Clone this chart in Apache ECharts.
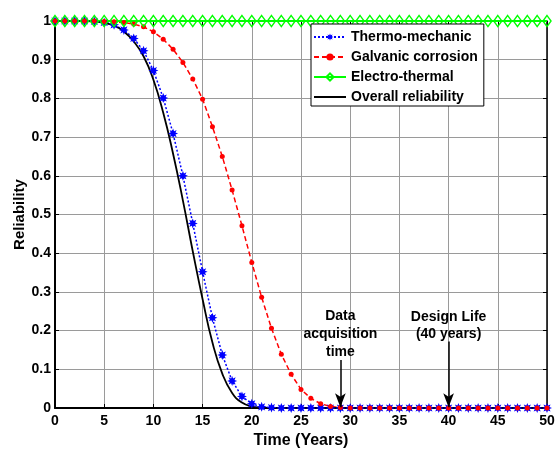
<!DOCTYPE html>
<html>
<head>
<meta charset="utf-8">
<script src="https://cdn.jsdelivr.net/npm/echarts@6/dist/echarts.min.js"></script>
<style>
html,body{margin:0;padding:0;background:#fff;}
#chart{width:555px;height:449px;}
</style>
</head>
<body>
<div id="chart"></div>
<script>
// ---- data ----
var years = [0,1,2,3,4,5,6,7,8,9,10,11,12,13,14,15,16,17,18,19,20,21,22,23,24,25,26,27,28,29,30,31,32,33,34,35,36,37,38,39,40,41,42,43,44,45,46,47,48,49,50];
var thermoMechanic = [1,1,1,1,0.999,0.996,0.99,0.977,0.955,0.923,0.872,0.801,0.709,0.6,0.477,0.352,0.233,0.137,0.07,0.03,0.011,0.003,0.001,0,0,0,0,0,0,0,0,0,0,0,0,0,0,0,0,0,0,0,0,0,0,0,0,0,0,0,0];
var galvanicCorrosion = [1,1,1,1,1,0.999,0.998,0.996,0.992,0.985,0.972,0.953,0.927,0.893,0.85,0.798,0.727,0.65,0.563,0.471,0.376,0.286,0.206,0.139,0.087,0.048,0.025,0.011,0.004,0.001,0,0,0,0,0,0,0,0,0,0,0,0,0,0,0,0,0,0,0,0,0];
var electroThermal = [1,1,1,1,1,1,1,1,1,1,1,1,1,1,1,1,1,1,1,1,1,1,1,1,1,1,1,1,1,1,1,1,1,1,1,1,1,1,1,1,1,1,1,1,1,1,1,1,1,1,1];
var overallReliability = [1,1,1,1,0.999,0.995,0.988,0.973,0.947,0.909,0.848,0.763,0.657,0.536,0.405,0.281,0.169,0.089,0.039,0.014,0.004,0.001,0,0,0,0,0,0,0,0,0,0,0,0,0,0,0,0,0,0,0,0,0,0,0,0,0,0,0,0,0];
var seriesNames = ['Thermo-mechanic','Galvanic corrosion','Electro-thermal','Overall reliability'];
var xTicks = [0,5,10,15,20,25,30,35,40,45,50];
var yTickLabels = ['0','0.1','0.2','0.3','0.4','0.5','0.6','0.7','0.8','0.9','1'];
var annotationDataAcq = {x: 29, label: 'Data\nacquisition\ntime'};
var annotationDesign = {x: 40, label: 'Design Life\n(40 years)'};

function pairs(vals){ return years.map(function(t,i){ return [t, vals[i]]; }); }

var FONT = '"Liberation Sans", Arial, Helvetica, sans-serif';
var starPath = 'path://M5,0 L6.0,2.6 L8.54,1.46 L7.4,4.0 L10,5 L7.4,6.0 L8.54,8.54 L6.0,7.4 L5,10 L4.0,7.4 L1.46,8.54 L2.6,6.0 L0,5 L2.6,4.0 L1.46,1.46 L4.0,2.6 Z';

var chart = echarts.init(document.getElementById('chart'), null, {renderer:'canvas'});
var option = {
  backgroundColor: '#fff',
  animation: false,
  textStyle: {fontFamily: FONT},
  grid: {left: 55, right: 8, top: 21, bottom: 41, containLabel: false, outerBoundsMode: 'none'},
  legend: {
    orient: 'vertical', left: 311, top: 24,
    backgroundColor: '#fff', borderColor: '#000', borderWidth: 1,
    padding: [5, 6, 1, 2], itemWidth: 32, itemHeight: 9, itemGap: 4,
    textStyle: {fontFamily: FONT, fontWeight: 'bold', fontSize: 14, color: '#000', lineHeight: 16},
    data: [
      {name: seriesNames[0]},
      {name: seriesNames[1]},
      {name: seriesNames[2]},
      {name: seriesNames[3], itemStyle: {opacity: 0}}
    ]
  },
  xAxis: [{
    type: 'value', min: xTicks[0], max: xTicks[xTicks.length-1], interval: xTicks[1]-xTicks[0],
    name: 'Time (Years)', nameLocation: 'middle', nameGap: 23,
    nameTextStyle: {fontFamily: FONT, fontWeight: 'bold', fontSize: 16, color: '#000'},
    axisLine: {lineStyle: {color: '#000', width: 2}},
    axisTick: {inside: true, length: 4, lineStyle: {color: '#000'}},
    axisLabel: {margin: 6, fontFamily: FONT, fontWeight: 'bold', fontSize: 14, color: '#000'},
    splitLine: {show: true, lineStyle: {color: '#9a9a9a', width: 1}}
  },{
    type: 'value', position: 'top', min: xTicks[0], max: xTicks[xTicks.length-1], interval: xTicks[1]-xTicks[0],
    axisLine: {onZero: false, lineStyle: {color: '#000', width: 1}},
    axisTick: {inside: true, length: 4, lineStyle: {color: '#000'}},
    axisLabel: {show: false}, splitLine: {show: false}
  }],
  yAxis: [{
    type: 'value', min: 0, max: 1, interval: 0.1,
    name: 'Reliability', nameLocation: 'middle', nameGap: 28, nameRotate: 90, nameMoveOverlap: false,
    nameTextStyle: {fontFamily: FONT, fontWeight: 'bold', fontSize: 15, color: '#000'},
    axisLine: {lineStyle: {color: '#000', width: 2}},
    axisTick: {inside: true, length: 4, lineStyle: {color: '#000'}},
    axisLabel: {margin: 4, fontFamily: FONT, fontWeight: 'bold', fontSize: 14, color: '#000',
      formatter: function(v){ return yTickLabels[Math.round(v*10)]; }},
    splitLine: {show: true, lineStyle: {color: '#9a9a9a', width: 1}}
  },{
    type: 'value', position: 'right', min: 0, max: 1, interval: 0.1,
    axisLine: {show: true, onZero: false, lineStyle: {color: '#000', width: 1.5}},
    axisTick: {show: true, inside: true, length: 4, lineStyle: {color: '#000'}},
    axisLabel: {show: false}, splitLine: {show: false}
  }],
  series: [{
    name: seriesNames[0], type: 'line', data: pairs(thermoMechanic),
    symbol: starPath, symbolSize: 10, showAllSymbol: true,
    itemStyle: {color: '#0000ff'},
    lineStyle: {color: '#0000ff', width: 1.5, type: [2, 2]}
  },{
    name: seriesNames[1], type: 'line', data: pairs(galvanicCorrosion),
    symbol: 'circle', symbolSize: 5, showAllSymbol: true,
    itemStyle: {color: '#ff0000'},
    lineStyle: {color: '#ff0000', width: 1.5, type: [5, 3]}
  },{
    name: seriesNames[2], type: 'line', data: pairs(electroThermal),
    symbol: 'diamond', symbolSize: [8, 11], showAllSymbol: true,
    itemStyle: {color: 'rgba(0,0,0,0)', borderColor: '#00ff00', borderWidth: 1.5},
    lineStyle: {color: '#00ff00', width: 2}
  },{
    name: seriesNames[3], type: 'line', data: pairs(overallReliability),
    symbol: 'none', smooth: 0.5,
    itemStyle: {color: '#000'},
    lineStyle: {color: '#000', width: 1.8},
    markLine: {
      silent: true, symbol: ['none', 'arrow'], symbolSize: [8, 14],
      lineStyle: {color: '#000', width: 1.5, type: 'solid'},
      label: {show: false},
      data: [
        [{coord: [annotationDataAcq.x, 0.124]}, {coord: [annotationDataAcq.x, 0.002]}],
        [{coord: [annotationDesign.x, 0.172]}, {coord: [annotationDesign.x, 0.002]}]
      ]
    },
    markPoint: {
      silent: true, symbol: 'circle', symbolSize: 0,
      label: {show: true, position: 'inside', color: '#000', fontFamily: FONT, fontWeight: 'bold', fontSize: 14, align: 'center', verticalAlign: 'middle'},
      data: [
        {coord: [annotationDataAcq.x, 0.19], label: {formatter: annotationDataAcq.label, lineHeight: 18}},
        {coord: [annotationDesign.x, 0.213], label: {formatter: annotationDesign.label, lineHeight: 17}}
      ]
    }
  }]
};
chart.setOption(option);
</script>
</body>
</html>
